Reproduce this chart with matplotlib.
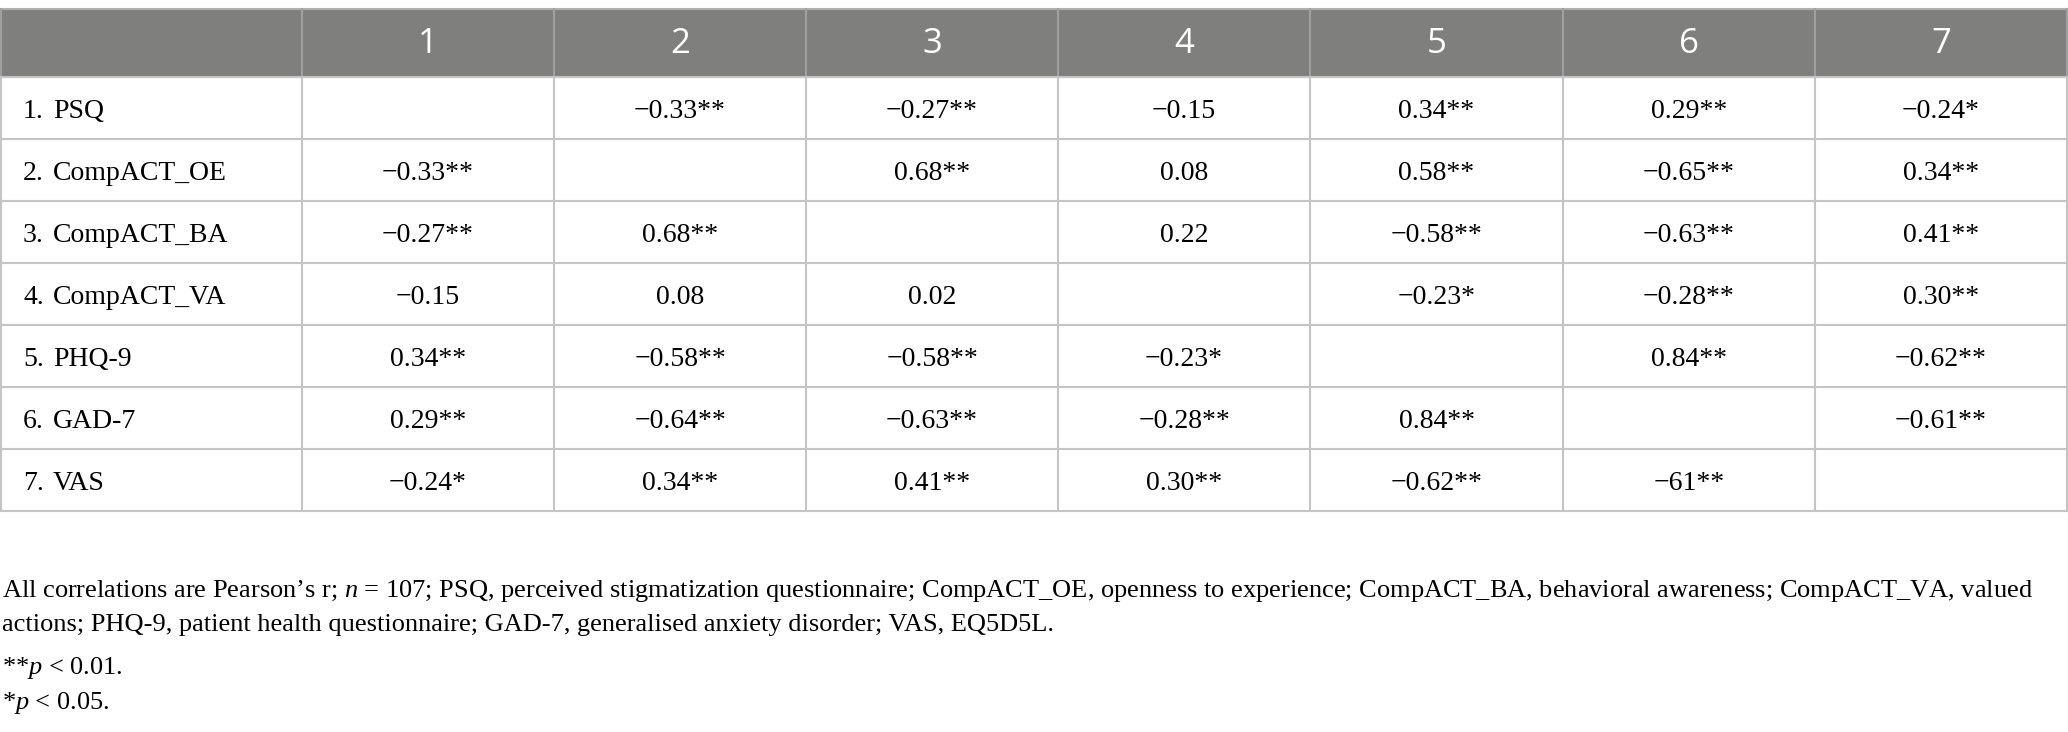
import matplotlib
matplotlib.use("Agg")
from matplotlib import pyplot as plt
from matplotlib.patches import Rectangle

plt.rcParams['mathtext.fontset'] = 'custom'
plt.rcParams['mathtext.rm'] = 'Liberation Serif'
plt.rcParams['mathtext.it'] = 'Liberation Serif:italic'

col_labels = ["1", "2", "3", "4", "5", "6", "7"]
row_nums = ["1.", "2.", "3.", "4.", "5.", "6.", "7."]
row_names = ["PSQ", "CompACT_OE", "CompACT_BA", "CompACT_VA", "PHQ-9", "GAD-7", "VAS"]

row1 = ["", "−0.33**", "−0.27**", "−0.15", "0.34**", "0.29**", "−0.24*"]
row2 = ["−0.33**", "", "0.68**", "0.08", "0.58**", "−0.65**", "0.34**"]
row3 = ["−0.27**", "0.68**", "", "0.22", "−0.58**", "−0.63**", "0.41**"]
row4 = ["−0.15", "0.08", "0.02", "", "−0.23*", "−0.28**", "0.30**"]
row5 = ["0.34**", "−0.58**", "−0.58**", "−0.23*", "", "0.84**", "−0.62**"]
row6 = ["0.29**", "−0.64**", "−0.63**", "−0.28**", "0.84**", "", "−0.61**"]
row7 = ["−0.24*", "0.34**", "0.41**", "0.30**", "−0.62**", "−61**", ""]
cells = [row1, row2, row3, row4, row5, row6, row7]

notes = [
    "All correlations are Pearson’s r; $n$ = 107; PSQ, perceived stigmatization questionnaire; "
    "CompACT_OE, openness to experience; CompACT_BA, behavioral awareness; CompACT_VA, valued",
    "actions; PHQ-9, patient health questionnaire; GAD-7, generalised anxiety disorder; VAS, EQ5D5L.",
    "**$p$ < 0.01.",
    "*$p$ < 0.05.",
]

# layout in pixels
W, H = 2068, 732
col_edges = [1, 302, 554, 806, 1058, 1310, 1563, 1815, 2067]
head_top, head_bot, row_h = 9, 77, 62
grid_col = "#c4c4c4"
head_col = "#7f807e"
serif = "Liberation Serif"

fig = plt.figure(figsize=(W / 100, H / 100), dpi=100)
ax = fig.add_axes([0, 0, 1, 1])
ax.set_xlim(0, W)
ax.set_ylim(H, 0)
ax.axis("off")

# header
ax.add_patch(Rectangle((col_edges[0], head_top), col_edges[-1] - col_edges[0], head_bot - head_top,
                       facecolor=head_col, edgecolor="none"))
ax.plot([col_edges[0], col_edges[-1]], [head_top, head_top], color="#b0b0b0", lw=1.5)
for i, lab in enumerate(col_labels):
    xc = (col_edges[i + 1] + col_edges[i + 2]) / 2
    ax.text(xc, 44, lab, color="white", fontsize=25,
            family="Open Sans", ha="center", va="center")

# body
row_edges = [head_bot + k * row_h for k in range(len(row_names) + 1)]
for k, y in enumerate(row_edges):
    ax.plot([col_edges[0], col_edges[-1]], [y, y], color=grid_col, lw=1.5)
for x in col_edges:
    ax.plot([x, x], [head_top, head_bot], color="#a0a0a0", lw=1.5)
    ax.plot([x, x], [head_bot, row_edges[-1]], color=grid_col, lw=1.5)

for r in range(len(row_names)):
    yb = row_edges[r] + row_h / 2 + 10
    ax.text(23, yb, row_nums[r], fontsize=20, family=serif, ha="left", va="baseline")
    ax.text(53, yb, row_names[r], fontsize=20, family=serif, ha="left", va="baseline")
    for c in range(len(col_labels)):
        xc = (col_edges[c + 1] + col_edges[c + 2]) / 2
        ax.text(xc, yb, cells[r][c], fontsize=20, family=serif, ha="center", va="baseline")

# footnotes, sized so that the first line spans the table
note_y = [597, 631, 674, 709]
t0 = ax.text(2, note_y[0], notes[0], fontsize=16, family=serif, ha="left", va="baseline")
fig.canvas.draw()
w = t0.get_window_extent(fig.canvas.get_renderer()).width
fs = 16 * 2030 / w
t0.set_fontsize(fs)
for txt, y in zip(notes[1:], note_y[1:]):
    ax.text(2, y, txt, fontsize=fs, family=serif, ha="left", va="baseline")

fig.savefig("out.png", dpi=100)
